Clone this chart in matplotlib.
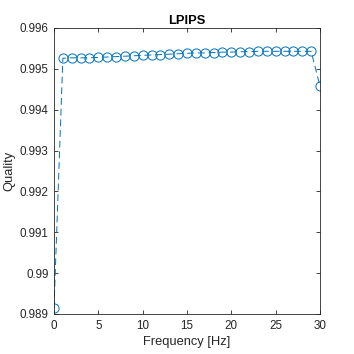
import matplotlib
matplotlib.use("Agg")
from matplotlib import pyplot as plt
from matplotlib.ticker import FuncFormatter

# frequency in Hz and LPIPS quality
freq = list(range(0, 31))
quality = [0.98915, 0.99526, 0.99527, 0.99527, 0.99527, 0.99528, 0.99529,
           0.99530, 0.99531, 0.99532, 0.99533, 0.99534, 0.99535, 0.99536,
           0.99537, 0.99538, 0.99539, 0.99539, 0.99540, 0.99541, 0.99541,
           0.99542, 0.99542, 0.99543, 0.99543, 0.99543, 0.99543, 0.99543,
           0.99543, 0.99543, 0.99458]
xticks = [0, 5, 10, 15, 20, 25, 30]
yticks = [0.989, 0.990, 0.991, 0.992, 0.993, 0.994, 0.995, 0.996]

plt.rcParams['font.family'] = ['Liberation Sans', 'DejaVu Sans']
axcol = '#262626'

fig = plt.figure(figsize=(3.54, 3.54), dpi=100)
ax = fig.add_axes([54/354, 40/354, 266/354, 286/354])
ax.plot(freq, quality, color='#0072BD', linestyle=(0, (7, 4)), linewidth=0.7,
        marker='o', markersize=6.6, markerfacecolor='none',
        markeredgewidth=0.7)

ax.set_xlim(0, 30)
ax.set_ylim(0.989, 0.996)
ax.set_xticks(xticks)
ax.set_yticks(yticks)
ax.yaxis.set_major_formatter(FuncFormatter(lambda v, p: '%g' % round(v, 3)))
ax.tick_params(direction='in', length=3, width=0.6, colors=axcol,
               labelsize=8.4, top=True, right=True, labeltop=False,
               labelright=False, pad=4)
for s in ax.spines.values():
    s.set_linewidth(0.6)
    s.set_color(axcol)

ax.set_title('LPIPS', fontsize=9.3, fontweight='bold', color='black', pad=3)
ax.set_xlabel('Frequency [Hz]', fontsize=9.3, color=axcol, labelpad=3)
ax.set_ylabel('Quality', fontsize=9.3, color=axcol, labelpad=3)

plt.savefig('out.png', dpi=100)
plt.close()
